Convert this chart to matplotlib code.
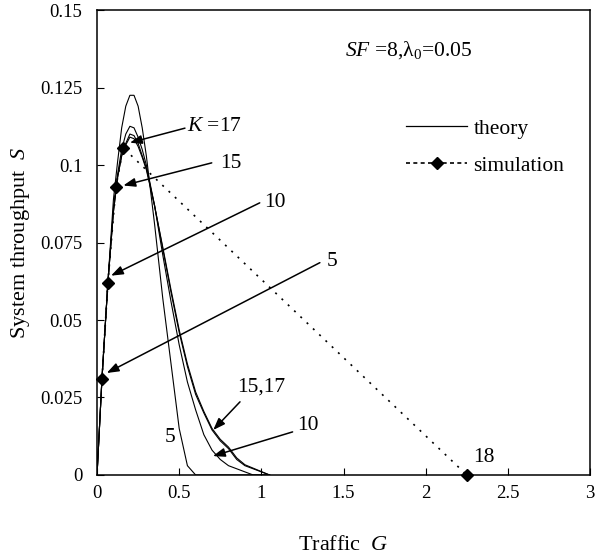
import matplotlib
matplotlib.use('Agg')
import matplotlib.pyplot as plt
from matplotlib.lines import Line2D

plt.rcParams['font.family'] = ['Liberation Serif', 'DejaVu Serif']
plt.rcParams['mathtext.fontset'] = 'custom'
plt.rcParams['mathtext.rm'] = 'Liberation Serif'
plt.rcParams['mathtext.it'] = 'Liberation Serif:italic'

# theory curves
G = [0, 0.03, 0.066, 0.1, 0.125, 0.15, 0.175, 0.2, 0.225, 0.25, 0.275, 0.3, 0.35,
     0.4, 0.45, 0.5, 0.55, 0.6, 0.65, 0.7, 0.75, 0.8, 0.85, 0.9, 0.95, 1.0, 1.05]
S_k5 = [0, 0.031, 0.062, 0.089, 0.101, 0.112, 0.119, 0.1225, 0.1225, 0.119, 0.112, 0.103, 0.081,
        0.057, 0.036, 0.015, 0.003, 0.0, 0, 0, 0, 0, 0, 0, 0, 0, 0]
S_k10 = [0, 0.031, 0.062, 0.086, 0.097, 0.105, 0.110, 0.1125, 0.112, 0.109, 0.105, 0.100, 0.087,
         0.071, 0.056, 0.042, 0.030, 0.021, 0.013, 0.008, 0.005, 0.003, 0.002, 0.001, 0.0, 0, 0]
S_k15 = [0, 0.031, 0.062, 0.085, 0.096, 0.103, 0.107, 0.110, 0.1095, 0.107, 0.103, 0.099, 0.087,
         0.073, 0.059, 0.046, 0.035, 0.026, 0.020, 0.0145, 0.011, 0.0085, 0.005, 0.003, 0.002, 0.001, 0.0]
S_k17 = [0, 0.031, 0.062, 0.085, 0.096, 0.103, 0.1065, 0.109, 0.1085, 0.106, 0.1025, 0.0985, 0.0868,
         0.0735, 0.0598, 0.0468, 0.0358, 0.0268, 0.0205, 0.015, 0.0115, 0.009, 0.0055, 0.0033, 0.0022, 0.0011, 0.0]

# simulation points (K = 5, 10, 15, 17, 18)
sim_G = [0.03, 0.066, 0.115, 0.16, 2.25]
sim_S = [0.031, 0.062, 0.093, 0.1055, 0.0]

xticks = [0, 0.5, 1, 1.5, 2, 2.5, 3]
xtick_labels = ['0', '0.5', '1', '1.5', '2', '2.5', '3']
yticks = [0, 0.025, 0.05, 0.075, 0.1, 0.125, 0.15]
ytick_labels = ['0', '0.025', '0.05', '0.075', '0.1', '0.125', '0.15']

fig = plt.figure(figsize=(5.96, 5.59), dpi=100)
ax = fig.add_axes([0.1628, 0.1503, 0.8272, 0.8317])

for s in [S_k5, S_k10, S_k15, S_k17]:
    ax.plot(G, s, color='black', lw=0.8)

ax.plot(sim_G, sim_S, color='black', lw=1.2, linestyle=(0, (1.2, 4)),
        marker='D', ms=6, clip_on=False, zorder=5)

ax.set_xlim(0, 3)
ax.set_ylim(0, 0.15)
ax.set_xticks(xticks)
ax.set_xticklabels(xtick_labels)
ax.set_yticks(yticks)
ax.set_yticklabels(ytick_labels)
ax.tick_params(direction='in', length=5, width=0.8, labelsize=13.5)
ax.tick_params(axis='y', pad=10.5)
ax.tick_params(axis='x', pad=7)
for sp in ax.spines.values():
    sp.set_linewidth(1.1)

ax.set_xlabel('Traffic  $\\mathit{G}$', fontsize=16, va='center')
ax.xaxis.set_label_coords(0.5, -0.152)
ax.set_ylabel('System throughput  $\\mathit{S}$', fontsize=16, va='center')
ax.yaxis.set_label_coords(-0.156, 0.5)

ax.text(1.51, 0.137, '$\\mathit{SF}$ =8,λ$_0$=0.05', fontsize=15.5, va='center', ha='left')

# labels and arrows
fs = 15.5
ap = dict(arrowstyle='-|>,head_length=0.6,head_width=0.22', color='black', lw=1.1,
          shrinkA=0, shrinkB=0, mutation_scale=12)
ax.annotate('', xy=(0.20, 0.1072), xytext=(0.535, 0.1119), arrowprops=ap)
ax.text(0.547, 0.1125, '$\\mathit{K}$ =17', fontsize=fs, va='center', ha='left')
ax.annotate('', xy=(0.16, 0.0934), xytext=(0.698, 0.1007), arrowprops=ap)
ax.text(0.748, 0.1006, '15', fontsize=fs, va='center', ha='left')
ax.annotate('', xy=(0.085, 0.0643), xytext=(0.99, 0.0878), arrowprops=ap)
ax.text(1.02, 0.0878, '10', fontsize=fs, va='center', ha='left')
ax.annotate('', xy=(0.059, 0.0329), xytext=(1.356, 0.0685), arrowprops=ap)
ax.text(1.40, 0.069, '5', fontsize=fs, va='center', ha='left')
ax.annotate('', xy=(0.707, 0.0145), xytext=(0.87, 0.0236), arrowprops=ap)
ax.text(1.0, 0.0284, '15,17', fontsize=fs, va='center', ha='center')
ax.annotate('', xy=(0.705, 0.0061), xytext=(1.19, 0.0139), arrowprops=ap)
ax.text(1.22, 0.016, '10', fontsize=fs, va='center', ha='left')
ax.text(0.444, 0.0122, '5', fontsize=fs, va='center', ha='center')
ax.text(2.29, 0.0058, '18', fontsize=fs, va='center', ha='left')

h_theory = Line2D([], [], color='black', lw=0.9)
h_sim = Line2D([], [], color='black', lw=1.2, linestyle=(0, (2.4, 2)), marker='D', ms=6)
ax.legend([h_theory, h_sim], ['theory', 'simulation'], loc='upper left',
          bbox_to_anchor=(0.627, 0.766), frameon=False, fontsize=fs, borderpad=0,
          borderaxespad=0, handlelength=2.83, handletextpad=0.3, labelspacing=0.78,
          numpoints=1)

fig.savefig('out.png', dpi=100)
